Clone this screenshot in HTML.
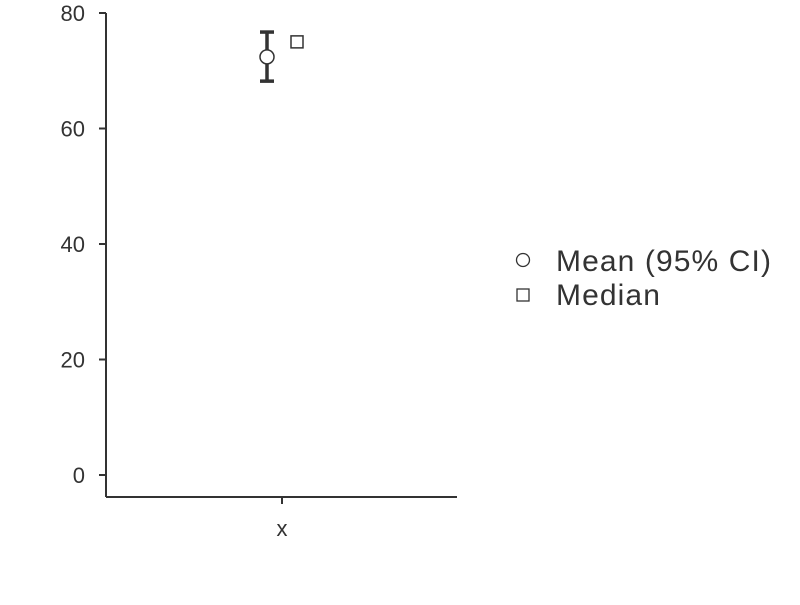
<!DOCTYPE html>
<html><head><meta charset="utf-8"><style>
body{margin:0;background:#fff}
svg text{font-family:"Liberation Sans",sans-serif;fill:#333}
</style></head><body>
<svg id="c" width="800" height="600"></svg>
<script>
const categories=["x"];
const meanValues=[72.4];
const ciLow=[68.2];
const ciHigh=[76.7];
const medianValues=[75.0];
const yTicks=[0,20,40,60,80];
const legendLabels=["Mean (95% CI)","Median"];

const svg=document.getElementById('c');
const NS='http://www.w3.org/2000/svg';
function y(v){return 475-v*5.775;}
function xPos(i){return 282;}
function add(tag,attrs,parent){const e=document.createElementNS(NS,tag);for(const k in attrs)e.setAttribute(k,attrs[k]);(parent||svg).appendChild(e);return e;}

const yAxis=add('line',{x1:106,y1:13,x2:106,y2:497,stroke:'#333','stroke-width':2});


const xAxis=add('line',{x1:106,y1:497,x2:457,y2:497,stroke:'#333','stroke-width':2});



yTicks.forEach(t=>{
  const tk=add('line',{x1:99,y1:y(t),x2:106,y2:y(t),stroke:'#333','stroke-width':2});
  
  
  const lb=add('text',{x:85,y:y(t)+8,'text-anchor':'end','font-size':22});
  lb.textContent=t;
  
  
});

categories.forEach((c,i)=>{
  const cx=xPos(i);
  const tk=add('line',{x1:cx,y1:497,x2:cx,y2:504,stroke:'#333','stroke-width':2});
  
  
  const lb=add('text',{x:cx,y:536,'text-anchor':'middle','font-size':22});
  lb.textContent=c;
  
  
  const mx=cx-15;
  const eb=add('g',{stroke:'#333','stroke-width':3.5});
  
  
  add('line',{x1:mx,y1:y(ciLow[i]),x2:mx,y2:y(ciHigh[i])},eb);
  add('line',{x1:mx-7,y1:y(ciLow[i]),x2:mx+7,y2:y(ciLow[i])},eb);
  add('line',{x1:mx-7,y1:y(ciHigh[i]),x2:mx+7,y2:y(ciHigh[i])},eb);
  const m=add('circle',{cx:mx,cy:y(meanValues[i]),r:7,fill:'#fff',stroke:'#333','stroke-width':1.5});
  
  
  const md=add('rect',{x:cx+15-6,y:y(medianValues[i])-6,width:12,height:12,fill:'#fff',stroke:'#333','stroke-width':1.5});
  
  
});

const l1=add('circle',{cx:523,cy:260,r:6.5,fill:'#fff',stroke:'#333','stroke-width':1.3});


const t1=add('text',{x:556,y:271,'font-size':30,'letter-spacing':1.1});
t1.textContent=legendLabels[0];


const l2=add('rect',{x:517,y:289,width:12,height:12,fill:'#fff',stroke:'#333','stroke-width':1.3});


const t2=add('text',{x:556,y:305,'font-size':30,'letter-spacing':1.1});
t2.textContent=legendLabels[1];


</script>
</body></html>
